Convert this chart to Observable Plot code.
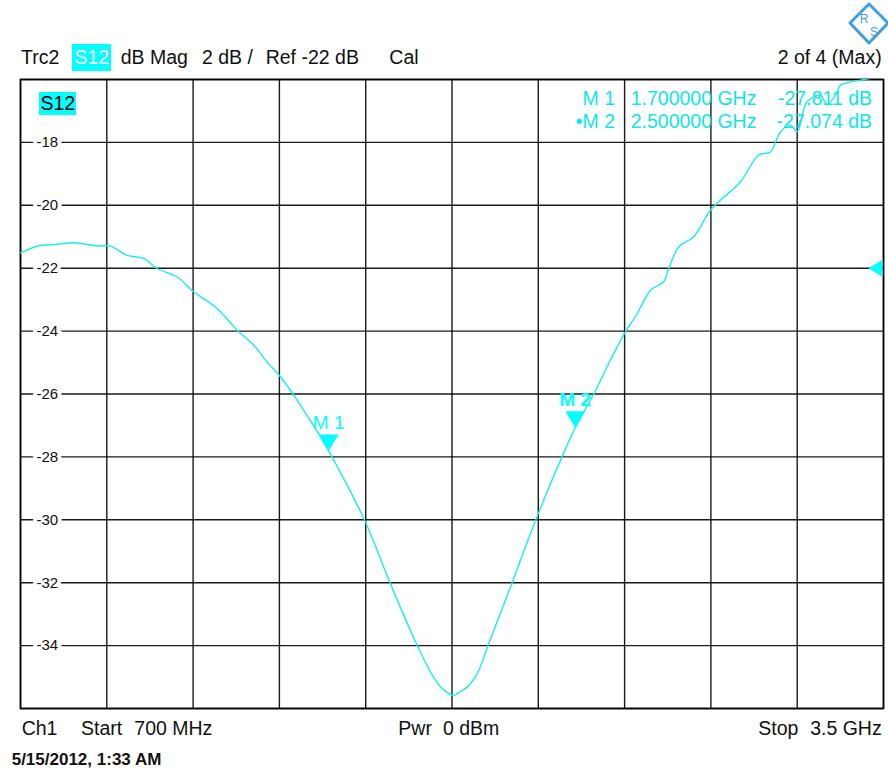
<!DOCTYPE html>
<html><head><meta charset="utf-8">
<script src="https://cdn.jsdelivr.net/npm/d3@7"></script>
<script src="https://cdn.jsdelivr.net/npm/@observablehq/plot@0.6"></script>
<style>
html,body{margin:0;padding:0;background:#fff;}
#wrap{position:relative;width:888px;height:770px;overflow:hidden;font-family:"Liberation Sans",Arial,sans-serif;color:#111;}
#wrap svg.plot{position:absolute;left:0;top:0;}
.t{position:absolute;white-space:pre;line-height:1;}
.box{position:absolute;background:#00ffff;}
</style></head><body><div id="wrap"></div>
<script>
// ---- data ----
const freqGHz = [0.700,0.765,0.808,0.873,0.949,0.992,1.046,1.100,1.143,1.208,1.262,1.338,1.403,1.457,1.500,1.544,1.598,1.673,1.700,1.819,1.900,1.987,2.040,2.072,2.106,2.128,2.149,2.182,2.219,2.294,2.378,2.457,2.500,2.561,2.614,2.663,2.701,2.744,2.787,2.803,2.836,2.884,2.939,2.971,3.036,3.095,3.133,3.166,3.198,3.220,3.252,3.296,3.317,3.350,3.360,3.425,3.463,3.500];
const s12dB   = [-21.51,-21.27,-21.25,-21.19,-21.29,-21.30,-21.59,-21.69,-22.01,-22.28,-22.75,-23.28,-23.97,-24.45,-24.98,-25.46,-26.20,-27.36,-27.81,-30.07,-32.03,-33.99,-35.00,-35.40,-35.58,-35.45,-35.32,-34.89,-33.94,-32.03,-29.85,-28.00,-27.07,-25.98,-24.92,-24.02,-23.44,-22.70,-22.43,-22.01,-21.32,-21.00,-20.15,-19.84,-19.25,-18.40,-18.30,-17.66,-17.45,-17.66,-16.71,-16.50,-16.81,-16.39,-16.18,-16.02,-15.95,-15.80];
const markerNames = ["M 1","M 2"];
const markerFreqGHz = [1.7, 2.5];
const markerdB = [-27.811, -27.074];
const markerReadFreq = ["1.700000 GHz","2.500000 GHz"];
const markerReadVal = ["-27.811 dB","-27.074 dB"];
const xGridGHz = [0.7,0.98,1.26,1.54,1.82,2.1,2.38,2.66,2.94,3.22,3.5];
const yGridDB = [-16,-18,-20,-22,-24,-26,-28,-30,-32,-34,-36];
const yTickLabels = [-18,-20,-22,-24,-26,-28,-30,-32,-34];
const refLevelDB = -22;
const startLabel = "700 MHz", stopLabel = "3.5 GHz";

const trace = freqGHz.map((f,i) => ({f, v: s12dB[i]}));
const markers = markerNames.map((n,i) => ({name:n, f:markerFreqGHz[i], v:markerdB[i]}));

const CY = "#00ffff", TRACE = "#19eeee", TXT = "#111";
const downTri = {draw(ctx){ctx.moveTo(-10,-16.5);ctx.lineTo(10,-16.5);ctx.lineTo(0,0);ctx.closePath();}};
const leftTri = {draw(ctx){ctx.moveTo(0,-8.5);ctx.lineTo(-14,0);ctx.lineTo(0,8.5);ctx.closePath();}};

const chart = Plot.plot({
  width: 888, height: 770,
  marginTop: 79, marginLeft: 20, marginRight: 5, marginBottom: 62,
  x: {domain: [0.7, 3.5], axis: null},
  y: {domain: [-36, -16], axis: null},
  style: {fontFamily: '"Liberation Sans", Arial, sans-serif', background: "transparent"},
  marks: [
    Plot.ruleX(xGridGHz, {stroke: "#000", strokeWidth: 1.4, strokeOpacity: 0.9}),
    Plot.ruleY(yGridDB, {stroke: "#000", strokeWidth: 1.4, strokeOpacity: 0.9}),
    Plot.text(yTickLabels, {y: d => d, text: d => String(d), frameAnchor: "left", dx: 16, textAnchor: "start",
      fontSize: 15, fill: TXT, stroke: "white", strokeWidth: 8}),
    Plot.frame({stroke: "#000", strokeWidth: 1.7, strokeOpacity: 0.9}),
    Plot.line(trace, {x: "f", y: "v", stroke: TRACE, strokeWidth: 1.4, curve: "catmull-rom", clip: true}),
    Plot.dot(markers, {x: "f", y: "v", symbol: downTri, r: 5, fill: CY, stroke: "none"}),
    Plot.text(markers.slice(0,1), {x: "f", y: "v", text: "name", dy: -28, fill: CY, fontSize: 19}),
    Plot.text(markers.slice(1), {x: "f", y: "v", text: "name", dy: -28, fill: CY, fontSize: 19, fontWeight: "bold"}),
    Plot.dot([refLevelDB], {y: d => d, frameAnchor: "right", symbol: leftTri, r: 5, fill: CY, stroke: "none", dx: -1})
  ]
});
chart.classList.add("plot");
const wrap = document.getElementById("wrap");
wrap.appendChild(chart);

function put(txt, o) {
  const s = document.createElement("span");
  s.className = "t";
  s.textContent = txt;
  const size = o.size || 19.5;
  s.style.fontSize = size + "px";
  s.style.top = (o.base - 0.8465 * size) + "px";
  if (o.x != null) s.style.left = o.x + "px";
  if (o.right != null) s.style.right = (888 - o.right) + "px";
  s.style.color = o.color || TXT;
  if (o.weight) s.style.fontWeight = o.weight;
  wrap.appendChild(s);
  return s;
}
function box(x, y, w, h) {
  const d = document.createElement("div");
  d.className = "box";
  Object.assign(d.style, {left: x + "px", top: y + "px", width: w + "px", height: h + "px"});
  wrap.appendChild(d);
}

// header
put("Trc2", {x: 21, base: 65});
box(72.3, 44.3, 38.7, 26.4);
put("S12", {x: 74.5, base: 65, color: "#fff"});
put("dB Mag", {x: 120.7, base: 65});
put("2 dB /", {x: 202, base: 65});
put("Ref -22 dB", {x: 265.7, base: 65});
put("Cal", {x: 389.3, base: 65});
put("2 of 4 (Max)", {right: 881.7, base: 65});

// in-plot trace label
box(39, 92, 37, 23);
put("S12", {x: 40.5, base: 111, color: "#000"});

// marker readout
const rowBase = [105.5, 129];
markers.forEach((m, i) => {
  put((i === 1 ? "\u2022" : "") + m.name, {right: 615, base: rowBase[i], color: "#10e6e6"});
  put(markerReadFreq[i], {x: 630.7, base: rowBase[i], color: "#10e6e6"});
  put(markerReadVal[i], {right: 872, base: rowBase[i], color: "#10e6e6"});
});

// footer
put("Ch1", {x: 21.7, base: 736});
put("Start", {x: 81, base: 736});
put(startLabel, {x: 134.3, base: 736});
put("Pwr", {x: 398.3, base: 736});
put("0 dBm", {x: 443, base: 736});
put("Stop", {x: 758.3, base: 736});
put(stopLabel, {right: 881.7, base: 736});
put("5/15/2012, 1:33 AM", {x: 11.7, base: 765, size: 17, weight: "bold"});

// R&S logo
const ns = "http://www.w3.org/2000/svg";
const logo = document.createElementNS(ns, "svg");
logo.setAttribute("width", 44); logo.setAttribute("height", 46);
logo.style.position = "absolute"; logo.style.left = "847px"; logo.style.top = "1px";
logo.innerHTML = '<path d="M22 3 L41 22 L22 42 L3 22 Z" fill="none" stroke="#3d9fe3" stroke-width="3" stroke-linejoin="round"/>' +
  '<text x="17" y="22" font-family="Liberation Sans, Arial" font-size="12" fill="#3d9fe3" text-anchor="middle">R</text>' +
  '<text x="27" y="35" font-family="Liberation Sans, Arial" font-size="12" fill="#3d9fe3" text-anchor="middle">S</text>';
wrap.appendChild(logo);
</script>
</body></html>
